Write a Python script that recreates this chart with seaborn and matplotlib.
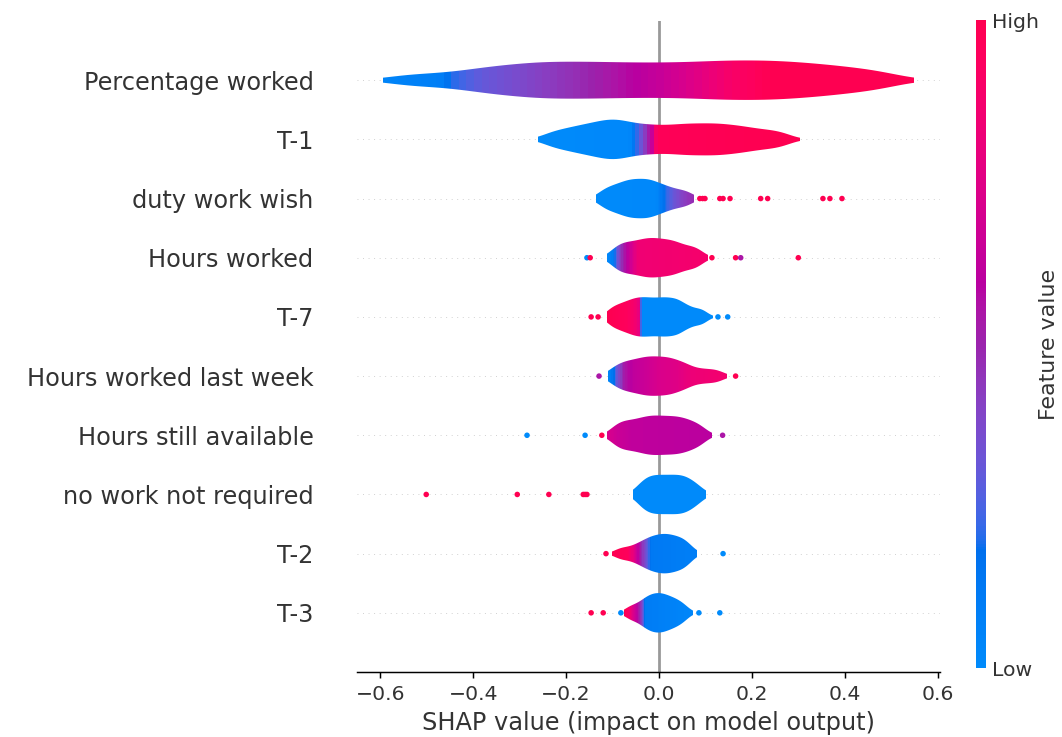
import numpy as np
import pandas as pd
import matplotlib
matplotlib.use("Agg")
import matplotlib.pyplot as plt
from matplotlib.colors import LinearSegmentedColormap, Normalize
from matplotlib.cm import ScalarMappable
import seaborn as sns

# ---------------------------------------------------------------- data
features = ["Percentage worked", "T-1", "duty work wish", "Hours worked", "T-7",
            "Hours worked last week", "Hours still available",
            "no work not required", "T-2", "T-3"]

# SHAP values that make up the body of each violin
body_pct_worked = [-0.540, -0.462, -0.400, -0.364, -0.329, -0.295, -0.268,
                   -0.241, -0.214, -0.186, -0.159, -0.131, -0.104, -0.075, -0.046,
                   -0.017, 0.012, 0.041, 0.069, 0.098, 0.124, 0.149, 0.175, 0.200,
                   0.226, 0.252, 0.277, 0.304, 0.335, 0.366, 0.398, 0.442, 0.487]
body_t1 = [-0.228, -0.193, -0.168, -0.145, -0.126, -0.108, -0.093, -0.077,
           -0.057, -0.034, -0.012, 0.013, 0.037, 0.059, 0.080, 0.102, 0.123, 0.144,
           0.168, 0.193, 0.225, 0.262]
body_duty = [-0.120, -0.102, -0.087, -0.074, -0.063, -0.053, -0.042, -0.031,
             -0.021, -0.011, 0.003, 0.017, 0.037, 0.061]
body_hours = [-0.095, -0.080, -0.067, -0.054, -0.041, -0.030, -0.020, -0.009,
              0.001, 0.013, 0.024, 0.036, 0.049, 0.068, 0.085]
body_t7 = [-0.102, -0.084, -0.070, -0.057, -0.047, -0.036, -0.026, -0.015,
           -0.004, 0.007, 0.017, 0.028, 0.039, 0.050, 0.068, 0.092]
body_hours_lw = [-0.097, -0.080, -0.066, -0.053, -0.040, -0.029, -0.019, -0.008,
                 0.003, 0.014, 0.025, 0.036, 0.051, 0.066, 0.094, 0.124]
body_hours_avail = [-0.094, -0.079, -0.065, -0.051, -0.038, -0.027, -0.016,
                    -0.006, 0.005, 0.016, 0.027, 0.038, 0.049, 0.061, 0.075, 0.092]
body_no_work = [-0.040, -0.027, -0.017, -0.006, 0.004, 0.015, 0.026, 0.036,
                0.047, 0.057, 0.068, 0.085]
body_t2 = [-0.081, -0.054, -0.036, -0.024, -0.014, -0.004, 0.005, 0.014, 0.022,
           0.032, 0.042, 0.053, 0.064]
body_t3 = [-0.061, -0.040, -0.027, -0.018, -0.009, 0.000, 0.008, 0.017, 0.028,
           0.039, 0.054]

# Visible extent of each violin (SHAP units)
span_lo = [-0.594, -0.260, -0.135, -0.112, -0.112, -0.110, -0.112, -0.056, -0.101, -0.075]
span_hi = [0.548, 0.303, 0.075, 0.105, 0.116, 0.146, 0.112, 0.100, 0.080, 0.073]

# Running-mean feature value (0 = low, 1 = high) along each violin
tone_pct_worked_x = [-0.594, -0.48, -0.45, -0.39, -0.27, -0.17, -0.09, 0.0, 0.075, 0.16, 0.25, 0.548]
tone_pct_worked_v = [0.05, 0.08, 0.20, 0.30, 0.40, 0.48, 0.56, 0.64, 0.74, 0.90, 1.0, 1.0]
tone_t1_x = [-0.26, -0.065, -0.045, -0.03, -0.015, -0.005, 0.303]
tone_t1_v = [0.0, 0.02, 0.25, 0.45, 0.65, 0.97, 1.0]
tone_duty_x = [-0.135, -0.005, 0.015, 0.035, 0.055, 0.075]
tone_duty_v = [0.0, 0.02, 0.20, 0.33, 0.42, 0.48]
tone_hours_x = [-0.112, -0.10, -0.09, -0.075, -0.06, -0.045, 0.105]
tone_hours_v = [0.02, 0.10, 0.35, 0.55, 0.70, 0.84, 0.88]
tone_t7_x = [-0.112, -0.07, -0.05, -0.042, -0.038, 0.116]
tone_t7_v = [1.0, 0.95, 0.85, 0.75, 0.0, 0.0]
tone_hours_lw_x = [-0.11, -0.10, -0.09, -0.075, -0.055, -0.03, 0.0, 0.04, 0.07, 0.146]
tone_hours_lw_v = [0.05, 0.15, 0.35, 0.55, 0.62, 0.66, 0.72, 0.75, 0.82, 0.87]
tone_hours_avail_x = [-0.112, -0.09, -0.06, 0.112]
tone_hours_avail_v = [0.72, 0.66, 0.62, 0.60]
tone_no_work_x = [-0.056, 0.100]
tone_no_work_v = [0.0, 0.0]
tone_t2_x = [-0.101, -0.068, -0.056, -0.045, -0.035, -0.025, -0.018, 0.080]
tone_t2_v = [1.0, 0.95, 0.78, 0.60, 0.42, 0.28, 0.12, 0.08]
tone_t3_x = [-0.075, -0.066, -0.058, -0.048, -0.038, -0.03, 0.073]
tone_t3_v = [1.0, 0.92, 0.75, 0.60, 0.40, 0.10, 0.03]

# Isolated samples drawn as dots: SHAP value and feature value
dots_pct_worked_x, dots_pct_worked_v = [], []
dots_t1_x, dots_t1_v = [], []
dots_duty_x = [0.088, 0.094, 0.099, 0.131, 0.138, 0.153, 0.219, 0.234, 0.353, 0.368, 0.394]
dots_duty_v = [1.0] * 11
dots_hours_x = [-0.155, -0.148, 0.114, 0.165, 0.176, 0.300]
dots_hours_v = [0.0, 1.0, 1.0, 1.0, 0.55, 1.0]
dots_t7_x = [-0.146, -0.131, 0.127, 0.148]
dots_t7_v = [1.0, 1.0, 0.0, 0.0]
dots_hours_lw_x = [-0.129, 0.165]
dots_hours_lw_v = [0.55, 1.0]
dots_hours_avail_x = [-0.284, -0.159, -0.123, 0.137]
dots_hours_avail_v = [0.0, 0.0, 1.0, 0.55]
dots_no_work_x = [-0.501, -0.305, -0.237, -0.163, -0.159, -0.155]
dots_no_work_v = [1.0] * 6
dots_t2_x = [-0.114, 0.138]
dots_t2_v = [1.0, 0.0]
dots_t3_x = [-0.146, -0.120, -0.082, 0.086, 0.131]
dots_t3_v = [1.0, 1.0, 0.0, 0.0, 0.0]

bodies = [body_pct_worked, body_t1, body_duty, body_hours, body_t7, body_hours_lw,
          body_hours_avail, body_no_work, body_t2, body_t3]
tones = [(tone_pct_worked_x, tone_pct_worked_v), (tone_t1_x, tone_t1_v),
         (tone_duty_x, tone_duty_v), (tone_hours_x, tone_hours_v), (tone_t7_x, tone_t7_v),
         (tone_hours_lw_x, tone_hours_lw_v), (tone_hours_avail_x, tone_hours_avail_v),
         (tone_no_work_x, tone_no_work_v), (tone_t2_x, tone_t2_v), (tone_t3_x, tone_t3_v)]
dots = [(dots_pct_worked_x, dots_pct_worked_v), (dots_t1_x, dots_t1_v),
        (dots_duty_x, dots_duty_v), (dots_hours_x, dots_hours_v), (dots_t7_x, dots_t7_v),
        (dots_hours_lw_x, dots_hours_lw_v), (dots_hours_avail_x, dots_hours_avail_v),
        (dots_no_work_x, dots_no_work_v), (dots_t2_x, dots_t2_v), (dots_t3_x, dots_t3_v)]

# kernel bandwidth (in SHAP units) for each violin
kde_bw = [0.055, 0.027, 0.017, 0.017, 0.014, 0.018, 0.017, 0.017, 0.016, 0.014]


# ---------------------------------------------------------------- colormap
def red_blue_cmap():
    """Blue -> purple -> red map interpolated in LCh space."""
    n = 100
    lum = np.r_[np.linspace(54.0, 40.0, n // 2), np.linspace(40.0, 54.0, n // 2)]
    chroma = np.linspace(70.0, 90.0, n)
    hue = np.linspace(4.6588, 0.35470565 + 2 * np.pi, n)
    a = chroma * np.cos(hue)
    b = chroma * np.sin(hue)
    fy = (lum + 16.0) / 116.0
    fx = fy + a / 500.0
    fz = fy - b / 200.0
    d = 6.0 / 29.0

    def finv(t):
        return np.where(t > d, t ** 3, 3 * d * d * (t - 4.0 / 29.0))

    X = 0.95047 * finv(fx)
    Y = finv(fy)
    Z = 1.08883 * finv(fz)
    r = 3.2406 * X - 1.5372 * Y - 0.4986 * Z
    g = -0.9689 * X + 1.8758 * Y + 0.0415 * Z
    bl = 0.0557 * X - 0.2040 * Y + 1.0570 * Z

    def gamma(u):
        u = np.clip(u, 0, 1)
        return np.where(u > 0.0031308, 1.055 * u ** (1 / 2.4) - 0.055, 12.92 * u)

    rgb = np.clip(np.stack([gamma(r), gamma(g), gamma(bl)], axis=1), 0, 1)
    return LinearSegmentedColormap.from_list("red_blue", rgb)


cmap = red_blue_cmap()

# ---------------------------------------------------------------- figure
DPI = 133
fig = plt.figure(figsize=(1062 / DPI, 737 / DPI), dpi=DPI)
ax = fig.add_axes([357 / 1062, 65 / 737, 583 / 1062, 651 / 737])
text_color = "#333333"

for i, name in enumerate(features):
    body = np.asarray(bodies[i], dtype=float)
    frame = pd.DataFrame({"shap": body, "feature": name})
    sns.violinplot(data=frame, x="shap", y="feature", order=features, orient="h",
                   cut=3, inner=None, density_norm="width", width=2 / 3,
                   bw_method=kde_bw[i] / np.std(body, ddof=1), linewidth=0,
                   color="white", ax=ax)
    shape = ax.collections[-1]
    outline = shape.get_paths()[0]
    shape.remove()

    # the violin is shown only over its visible span, coloured by feature value
    lo, hi = span_lo[i], span_hi[i]
    cols = np.linspace(lo, hi, 70)
    tx, tv = tones[i]
    shade = np.interp(cols, tx, tv)
    im = ax.imshow(shade[None, :], cmap=cmap, vmin=0, vmax=1, aspect="auto",
                   interpolation="nearest", extent=(lo, hi, i + 0.4, i - 0.4), zorder=2)
    im.set_clip_path(outline, transform=ax.transData)

    dx, dv = dots[i]
    if len(dx):
        ax.scatter(dx, [i] * len(dx), c=dv, cmap=cmap, vmin=0, vmax=1, s=9,
                   linewidth=0, zorder=1)
    ax.axhline(y=i, color="#cccccc", lw=0.5, dashes=(1, 5), zorder=-1)

ax.axvline(x=0, color="#999999", zorder=-1)

ax.set_xlim(-0.65, 0.605)
ax.set_ylim(len(features), -1)
ax.set_xticks([-0.6, -0.4, -0.2, 0.0, 0.2, 0.4, 0.6])
ax.set_yticks(range(len(features)))
ax.set_yticklabels(features)
ax.set_ylabel("")
ax.set_xlabel("SHAP value (impact on model output)", fontsize=13, color=text_color)
ax.tick_params(axis="y", labelsize=13, length=20, width=0.5, left=False,
               labelcolor=text_color)
ax.tick_params(axis="x", labelsize=11, labelcolor=text_color)
for side in ("top", "right", "left"):
    ax.spines[side].set_visible(False)

# colour bar for the feature value
cax = fig.add_axes([976 / 1062, 69 / 737, 10 / 1062, 648 / 737])
mappable = ScalarMappable(norm=Normalize(0, 1), cmap=cmap)
mappable.set_array([0, 1])
cb = fig.colorbar(mappable, cax=cax, ticks=[0, 1])
cb.set_ticklabels(["Low", "High"])
cb.set_label("Feature value", size=12, labelpad=0, color=text_color)
cb.ax.tick_params(labelsize=11, length=0, labelcolor=text_color)
cb.outline.set_visible(False)

fig.savefig("out.png", dpi=DPI)
